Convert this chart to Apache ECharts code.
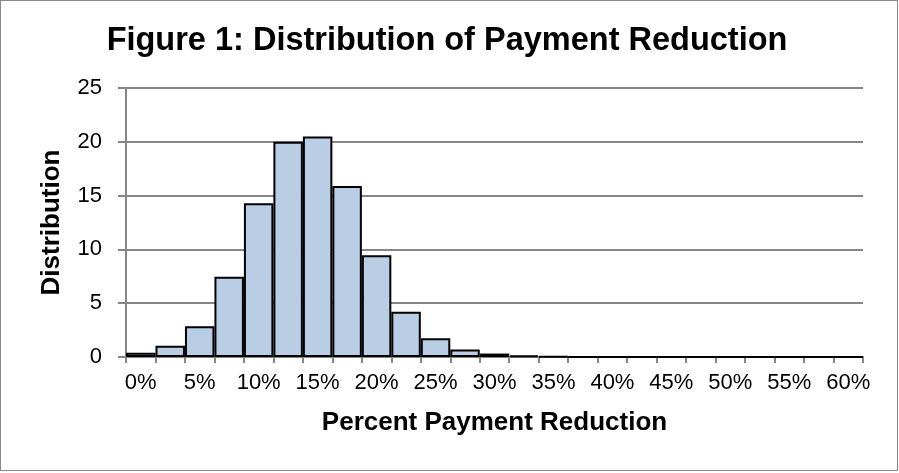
<!DOCTYPE html>
<html><head><meta charset="utf-8">
<script src="https://cdn.jsdelivr.net/npm/echarts@6/dist/echarts.min.js"></script>
<style>html,body{margin:0;padding:0;background:#fff}#wrap{position:relative;width:899px;height:473px}#c{position:absolute;left:0;top:0;width:899px;height:473px}#frame{position:absolute;left:0;top:0;width:898px;height:471px;box-sizing:border-box;border:1.5px solid #8a8a8a;pointer-events:none}</style>
</head><body><div id="wrap"><div id="c"></div><div id="frame"></div></div>
<script>
const categories = ['0%','2.5%','5%','7.5%','10%','12.5%','15%','17.5%','20%','22.5%','25%','27.5%','30%','32.5%','35%','37.5%','40%','42.5%','45%','47.5%','50%','52.5%','55%','57.5%','60%'];
const distribution = [0.4,1.05,2.85,7.45,14.3,20.0,20.5,15.9,9.45,4.2,1.75,0.7,0.32,0.14,0.06,0,0,0,0,0,0,0,0,0,0];
const yTicks = [0,5,10,15,20,25];

const chart = echarts.init(document.getElementById('c'), null, {renderer:'canvas'});
const font = '"Liberation Sans", Arial, sans-serif';
chart.setOption({
  animation:false,
  title:{text:'Figure 1: Distribution of Payment Reduction',left:442,top:20,textAlign:'center',
    textStyle:{fontFamily:font,fontSize:32.5,fontWeight:'bold',color:'#000'}},
  grid:{left:126,right:36,top:88,bottom:116},
  xAxis:{type:'category',data:categories,
    name:'Percent Payment Reduction',nameLocation:'middle',nameGap:53,
    nameTextStyle:{fontFamily:font,fontSize:26,fontWeight:'bold',color:'#000'},
    axisLine:{lineStyle:{color:'#868686',width:2}},
    axisTick:{show:true,alignWithLabel:false,interval:0,length:6,lineStyle:{color:'#868686',width:2}},
    axisLabel:{interval:1,fontFamily:font,fontSize:22,color:'#000',margin:15}},
  yAxis:{type:'value',min:yTicks[0],max:yTicks[yTicks.length-1],interval:5,
    name:'Distribution',nameLocation:'middle',nameGap:61,
    nameTextStyle:{fontFamily:font,fontSize:26,fontWeight:'bold',color:'#000'},
    axisLine:{show:true,lineStyle:{color:'#868686',width:2}},
    axisTick:{show:true,length:8,lineStyle:{color:'#868686',width:2}},
    splitLine:{lineStyle:{color:'#868686',width:2}},
    axisLabel:{fontFamily:font,fontSize:22,color:'#000',margin:24}},
  series:[{type:'bar',data:distribution,barCategoryGap:'0%',
    itemStyle:{color:'#B9CDE5',borderColor:'#000',borderWidth:2}}]
});
</script></body></html>
